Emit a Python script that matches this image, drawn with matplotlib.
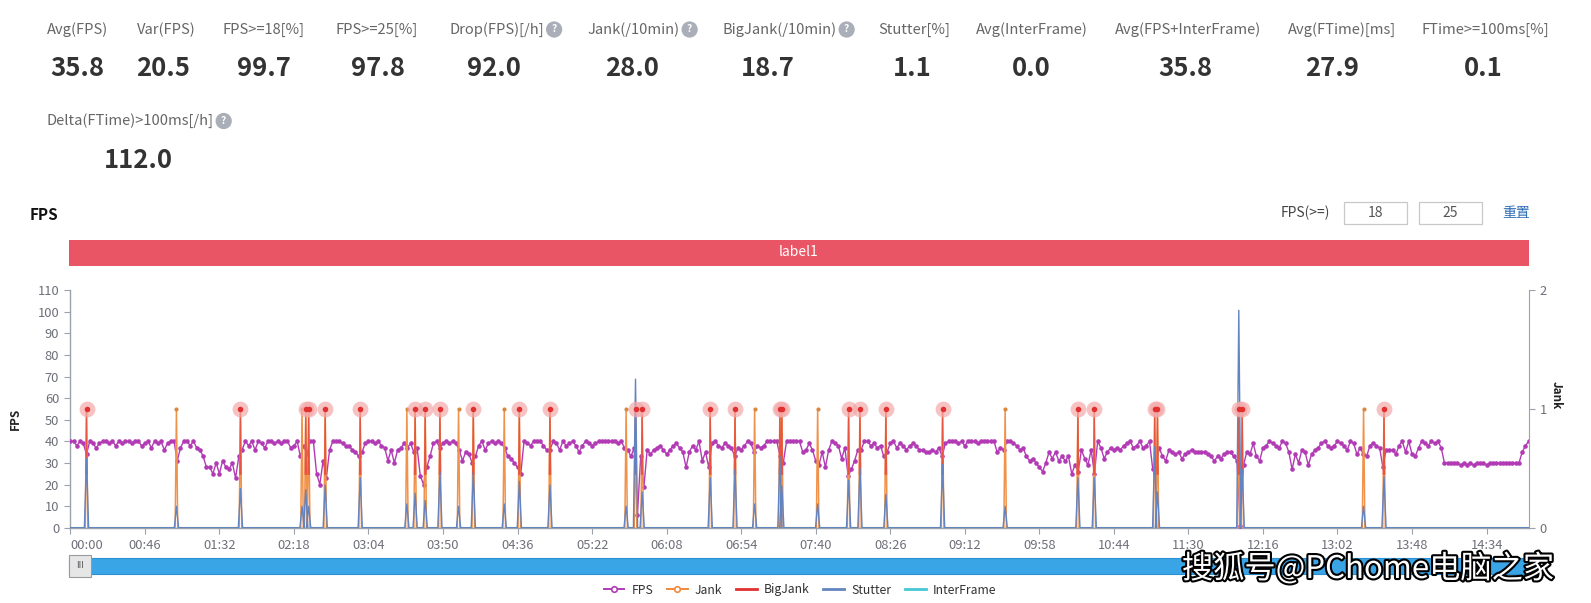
import numpy as np
import matplotlib
matplotlib.use('Agg')
import matplotlib.pyplot as plt
from matplotlib.patches import Rectangle
from matplotlib.lines import Line2D
import matplotlib.patheffects as pe

plt.rcParams['font.family'] = ['Noto Sans CJK SC', 'DejaVu Sans']

# ---------------- data ----------------
stat_labels = ['Avg(FPS)', 'Var(FPS)', 'FPS>=18[%]', 'FPS>=25[%]', 'Drop(FPS)[/h]',
               'Jank(/10min)', 'BigJank(/10min)', 'Stutter[%]', 'Avg(InterFrame)',
               'Avg(FPS+InterFrame)', 'Avg(FTime)[ms]', 'FTime>=100ms[%]']
stat_values = ['35.8', '20.5', '99.7', '97.8', '92.0', '28.0', '18.7', '1.1', '0.0',
               '35.8', '27.9', '0.1']
stat_help = [False, False, False, False, True, True, True, False, False, False, False, False]
stat2_label = 'Delta(FTime)>100ms[/h]'
stat2_value = '112.0'

tick_labels = ['00:00', '00:46', '01:32', '02:18', '03:04', '03:50', '04:36', '05:22',
               '06:08', '06:54', '07:40', '08:26', '09:12', '09:58', '10:44', '11:30',
               '12:16', '13:02', '13:48', '14:34']
tick_seconds = [0, 46, 92, 138, 184, 230, 276, 322, 368, 414, 460, 506, 552, 598,
                644, 690, 736, 782, 828, 874]

# FPS sampled every 2 s, 0 .. 900 s
fps_values = [
    40, 40, 38, 40, 39,  34, 40, 39, 37, 39,  40, 40, 39, 40, 38,  40, 39, 40, 40, 39,
    40, 40, 38, 39, 40,  37, 40, 39, 40, 36,  39, 40, 40, 31, 37,  40, 40, 38, 40, 37,
    36, 33, 28, 28, 25,  30, 25, 31, 28, 27,  30, 23, 33, 36, 40,  38, 40, 36, 40, 39,
    37, 40, 40, 39, 40,  39, 40, 40, 37, 38,  40, 33, 38, 34, 40,  40, 25, 20, 31, 23,
    36, 40, 40, 40, 39,  38, 38, 36, 35, 33,  35, 39, 40, 40, 39,  40, 38, 37, 31, 36,
    30, 36, 37, 39, 37,  39, 35, 37, 24, 20,  28, 33, 39, 40, 37,  39, 40, 39, 40, 39,
    36, 31, 35, 34, 30,  33, 38, 40, 36, 39,  40, 39, 40, 39, 37,  33, 32, 30, 28, 25,
    40, 39, 38, 40, 40,  40, 38, 36, 36, 40,  39, 36, 40, 38, 39,  40, 38, 35, 38, 40,
    39, 38, 39, 40, 40,  40, 40, 40, 40, 39,  40, 37, 36, 33, 37,  6, 33, 19, 36, 34,
    36, 37, 38, 36, 34,  36, 38, 39, 37, 35,  28, 35, 38, 36, 40,  31, 35, 28, 39, 40,
    38, 37, 39, 38, 37,  33, 37, 36, 38, 40,  39, 35, 38, 37, 38,  40, 40, 40, 40, 33,
    30, 40, 40, 40, 40,  40, 35, 36, 39, 36,  31, 29, 35, 28, 36,  40, 39, 38, 32, 37,
    24, 27, 31, 36, 36,  40, 40, 38, 39, 37,  38, 33, 35, 39, 40,  37, 39, 38, 36, 38,
    39, 38, 36, 36, 35,  35, 36, 35, 37, 33,  39, 40, 40, 40, 39,  40, 38, 40, 40, 40,
    39, 40, 40, 40, 40,  40, 35, 37, 36, 40,  40, 39, 38, 36, 37,  33, 31, 32, 30, 28,
    26, 30, 35, 32, 35,  31, 33, 31, 33, 25,  29, 26, 36, 32, 29,  36, 25, 40, 37, 32,
    35, 37, 36, 37, 36,  38, 39, 40, 37, 38,  40, 37, 38, 40, 27,  28, 37, 33, 31, 36,
    35, 34, 35, 32, 34,  35, 36, 35, 35, 35,  35, 34, 33, 31, 33,  32, 34, 35, 35, 33,
    31, 1, 29, 35, 34,   39, 33, 31, 37, 38,  40, 39, 38, 37, 40,  39, 35, 27, 34, 30,
    36, 35, 29, 34, 36,  37, 39, 40, 38, 37,  38, 40, 39, 38, 36,  40, 39, 34, 37, 34,
    33, 38, 39, 38, 37,  28, 36, 36, 36, 34,  38, 40, 35, 40, 34,  33, 37, 40, 39, 38,
    40, 39, 40, 37, 30,  30, 30, 30, 30, 29,  30, 29, 30, 29, 30,  30, 30, 29, 30, 30,
    30, 30, 30, 30, 30,  30, 30, 30, 35, 38,
    40]
fps_seconds = np.arange(0, 901, 2)

jank_times = [10, 65.5, 105, 143, 145.3, 147.1, 157.3, 178.9, 207.7, 212.8, 219, 228.1,
              239.6, 248.7, 267.8, 277.1, 296, 343, 348.8, 352.9, 394.9, 410.2, 422.3,
              437.9, 439.1, 461.2, 480.3, 487.3, 503.3, 538.3, 576.9, 621.8, 631.9,
              669.2, 670.9, 721.1, 723.2, 798.1, 810.7]
bigjank_times = [10, 105, 145.3, 147.1, 157.3, 178.9, 212.8, 219, 228.1, 248.7, 277.1,
                 296, 348.8, 352.9, 394.9, 410.2, 437.9, 439.1, 480.3, 487.3, 503.3,
                 538.3, 621.8, 631.9, 669.2, 670.9, 721.1, 723.2, 810.7]
stutter_values = [0.58, 0.18, 0.33, 0.18, 0.32, 0.18, 0.36, 0.42, 0.2, 0.29, 0.23, 0.47,
                  0.18, 0.47, 0.2, 0.39, 0.36, 0.18, 1.25, 0.3, 0.42, 0.49, 0.2,
                  0.6, 0.35, 0.2, 0.4, 0.5, 0.28, 0.53, 0.18, 0.42, 0.42,
                  0.68, 0.3, 1.83, 0.49, 0.18, 0.43]

# ---------------- layout helpers ----------------
W, H = 1591, 603
fig = plt.figure(figsize=(W / 100, H / 100), dpi=100)
fig.patch.set_facecolor('white')


def fx(x):
    return x / W


def fy(y):
    return 1 - y / H


def spikes(times, heights, half=1.0, xmax=900):
    xs, ys = [0], [0]
    for t, h in zip(times, heights):
        xs += [t - half, t, t + half]
        ys += [0, h, 0]
    xs.append(xmax)
    ys.append(0)
    return xs, ys


LABEL_C = '#666666'
VALUE_C = '#333333'

# ---------------- statistics header ----------------
label_left = [46.7, 137, 222.2, 335.9, 449.5, 587.5, 722.5, 878.7, 976.1, 1115.2, 1287.7, 1421.6]
value_cx = [77.1, 163.4, 263.8, 377.5, 494.2, 632.2, 768.1, 912.2, 1031, 1185.2, 1332.3, 1483.5]
renderer = fig.canvas.get_renderer()


def help_icon(txt):
    bb = txt.get_window_extent(renderer)
    cx = bb.x1 + 10
    cy_fig = (bb.y0 + bb.y1) / 2 / H
    fig.text(cx / W, cy_fig, '?', ha='center', va='center', fontsize=7.5, color='white',
             fontweight='bold',
             bbox=dict(boxstyle='circle,pad=0.3', fc='#A9AEB8', ec='none'))


for lab, val, hp, lx, vx in zip(stat_labels, stat_values, stat_help, label_left, value_cx):
    t = fig.text(fx(lx), fy(29.5), lab, ha='left', va='center', fontsize=10.6, color=LABEL_C)
    if hp:
        help_icon(t)
    fig.text(fx(vx), fy(69), val, ha='center', va='center', fontsize=18.5,
             fontweight='bold', color=VALUE_C)

t2 = fig.text(fx(46.7), fy(121), stat2_label, ha='left', va='center', fontsize=10.6, color=LABEL_C)
help_icon(t2)
fig.text(fx(138), fy(161), stat2_value, ha='center', va='center', fontsize=18.5,
         fontweight='bold', color=VALUE_C)

# ---------------- chart title & controls ----------------
fig.text(fx(30), fy(215), 'FPS', ha='left', va='center', fontsize=11, fontweight='bold',
         color='#111111')
fig.text(fx(1281), fy(213), 'FPS(>=)', ha='left', va='center', fontsize=10, color='#444444')
for (x0, x1, s) in [(1344, 1407, '18'), (1419, 1482, '25')]:
    fig.add_artist(Rectangle((fx(x0), fy(224)), (x1 - x0) / W, 22 / H,
                             transform=fig.transFigure, fill=False, ec='#C8C8C8', lw=0.9))
    fig.text(fx((x0 + x1) / 2), fy(213), s, ha='center', va='center', fontsize=10,
             color='#555555')
fig.text(fx(1502), fy(213), '重置', ha='left', va='center', fontsize=10, color='#2F6DB5')

# label band
fig.add_artist(Rectangle((fx(69), fy(266)), (1529 - 69) / W, 26.5 / H,
                         transform=fig.transFigure, fc='#EA5565', ec='none'))
fig.text(fx(799), fy(252.5), 'label1', ha='center', va='center', fontsize=10, color='white')

# ---------------- main axes ----------------
ax = fig.add_axes([fx(70.3), fy(527.7), (1528.7 - 70.3) / W, (527.7 - 290.1) / H])
ax.set_xlim(0, 900)
ax.set_ylim(0, 110)
ax.set_facecolor('none')
AXC = '#9AA3AD'
TXC = '#6E7079'
for s in ['top', 'right']:
    ax.spines[s].set_visible(False)
for s in ['left', 'bottom']:
    ax.spines[s].set_color(AXC)
    ax.spines[s].set_linewidth(1.0)
ax.set_yticks(range(0, 111, 10))
ax.tick_params(axis='y', colors=AXC, labelcolor=TXC, labelsize=9.3, length=4, pad=4)
ax.set_xticks(tick_seconds)
ax.set_xticklabels(tick_labels)
ax.tick_params(axis='x', colors=AXC, labelcolor=TXC, labelsize=9.3, length=4, pad=4)
ax.get_xticklabels()[0].set_ha('left')
ax.set_ylabel('FPS', fontsize=8.5, fontweight='bold', color='#222222')
ax.yaxis.set_label_coords(-0.033, 0.46)

ax.plot(fps_seconds, fps_values, color='#B23BB5', lw=1.0, marker='o', ms=3.3, mew=0,
        zorder=3)

ax2 = ax.twinx()
ax2.set_ylim(0, 2)
ax2.set_xlim(0, 900)
for s in ['top', 'left', 'bottom']:
    ax2.spines[s].set_visible(False)
ax2.spines['right'].set_color(AXC)
ax2.set_yticks([0, 1, 2])
ax2.tick_params(axis='y', colors=AXC, labelcolor=TXC, labelsize=9.3, length=4, pad=4)
ax2.set_ylabel('Jank', fontsize=8.5, fontweight='bold', color='#222222', rotation=270)
ax2.yaxis.set_label_coords(1.0235, 0.56)

# baselines (all series at zero)
ax2.plot([0, 900], [0, 0], color='#F2A66A', lw=2.2, alpha=0.35, zorder=1)

jx, jy = spikes(jank_times, [1] * len(jank_times), half=0.8)
ax2.plot(jx, jy, color='#F0924A', lw=1.1, zorder=2)
ax2.scatter(jank_times, [1] * len(jank_times), s=9, color='#D9893F', zorder=4, lw=0)

bx2, by2 = [], []
for t in bigjank_times:
    bx2 += [t - 0.4, t, t + 0.4, np.nan]
    by2 += [0.45, 1, 0.45, np.nan]
ax2.plot(bx2, by2, color='#E8553E', lw=0.9, zorder=2.5)

sx, sy = spikes(jank_times, stutter_values, half=1.3)
ax2.plot(sx, sy, color='#6384C0', lw=1.0, zorder=3)
ax2.plot([0, 900], [0, 0], color='#48C7D4', lw=0.8, zorder=3.2)

ax2.scatter(bigjank_times, [1] * len(bigjank_times), s=130, color='#F4A9A9', alpha=0.7,
            lw=0, zorder=5)
ax2.scatter(bigjank_times, [1] * len(bigjank_times), s=16, color='#E0302F', lw=0, zorder=6)

# ---------------- slider ----------------
fig.add_artist(Rectangle((fx(69), fy(574)), (1529 - 69) / W, 16 / H,
                         transform=fig.transFigure, fc='#3AA5E6', ec='#2A90D2', lw=0.8))
fig.add_artist(Rectangle((fx(69), fy(577)), 22 / W, 22 / H,
                         transform=fig.transFigure, fc='#E6E6E6', ec='#9A9A9A', lw=0.8))
fig.text(fx(80), fy(566), 'III', ha='center', va='center', fontsize=6.5, color='#555555')

# ---------------- legend ----------------
handles = [
    Line2D([], [], color='#B23BB5', lw=1.4, marker='o', ms=4, mfc='white', mec='#B23BB5', mew=1.2),
    Line2D([], [], color='#EF8B3D', lw=1.4, marker='o', ms=4, mfc='white', mec='#EF8B3D', mew=1.2),
    Line2D([], [], color='#E0302F', lw=2),
    Line2D([], [], color='#6384C0', lw=2),
    Line2D([], [], color='#48C7D4', lw=2),
]
fig.legend(handles, ['FPS', 'Jank', 'BigJank', 'Stutter', 'InterFrame'], loc='center',
           bbox_to_anchor=(fx(800), fy(590)), ncol=5, frameon=False, fontsize=8.8,
           handlelength=1.7, handletextpad=0.6, columnspacing=1.1, labelcolor='#333333')

# ---------------- watermark ----------------
fig.text(fx(1368), fy(569), '搜狐号@PChome电脑之家', ha='center', va='center', fontsize=22.5,
         color='white',
         path_effects=[pe.withStroke(linewidth=3, foreground='black')])

fig.savefig('out.png', dpi=100, facecolor='white')
